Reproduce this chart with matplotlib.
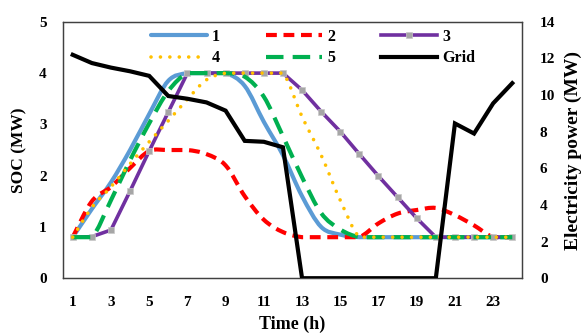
import numpy as np
import matplotlib
matplotlib.use("Agg")
import matplotlib.pyplot as plt
from matplotlib.path import Path
from matplotlib.patches import PathPatch
from matplotlib.lines import Line2D

plt.rcParams["font.family"] = ["Liberation Serif", "DejaVu Serif"]
plt.rcParams["font.weight"] = "bold"

hours = list(range(1, 25))

soc_1 = [0.8, 1.35, 1.87, 2.5, 3.2, 3.85, 4.0, 4.0, 4.0, 3.75, 3.05, 2.4,
         1.6, 1.0, 0.85, 0.8, 0.8, 0.8, 0.8, 0.8, 0.8, 0.8, 0.8, 0.8]
soc_2 = [0.8, 1.5, 1.78, 2.15, 2.48, 2.5, 2.5, 2.42, 2.2, 1.6, 1.14, 0.9,
         0.8, 0.8, 0.8, 0.8, 1.07, 1.26, 1.33, 1.37, 1.23, 1.03, 0.8, 0.8]
soc_3 = [0.8, 0.81, 0.94, 1.7, 2.48, 3.24, 4.0, 4.0, 4.0, 4.0, 4.0, 4.0,
         3.67, 3.25, 2.86, 2.42, 1.99, 1.58, 1.17, 0.8, 0.8, 0.8, 0.8, 0.8]
soc_4 = [0.8, 1.38, 1.78, 2.23, 2.66, 3.07, 3.49, 3.87, 4.0, 4.0, 4.0, 4.0,
         3.15, 2.4, 1.52, 0.8, 0.8, 0.8, 0.8, 0.8, 0.8, 0.8, 0.8, 0.8]
soc_5 = [0.8, 0.8, 1.52, 2.3, 3.02, 3.65, 4.0, 4.0, 4.0, 3.93, 3.54, 2.77,
         1.97, 1.27, 0.95, 0.8, 0.8, 0.8, 0.8, 0.8, 0.8, 0.8, 0.8, 0.8]
grid_power = [12.2, 11.75, 11.5, 11.3, 11.05, 9.95, 9.8, 9.6, 9.15, 7.5, 7.45, 7.15,
              0, 0, 0, 0, 0, 0, 0, 0, 8.45, 7.9, 9.55, 10.65]

series_names = ["1", "2", "3", "4", "5", "Grid"]
x_ticks = list(range(1, 24, 2))
soc_ticks = [0, 1, 2, 3, 4, 5]
power_ticks = [0, 2, 4, 6, 8, 10, 12, 14]


def smooth_path(x, y):
    """Cubic Bezier path through the points (Catmull-Rom style tangents)."""
    p = np.column_stack([x, y]).astype(float)
    n = len(p)
    verts = [p[0]]
    codes = [Path.MOVETO]
    for i in range(n - 1):
        p0 = p[i - 1] if i > 0 else p[i]
        p1 = p[i]
        p2 = p[i + 1]
        p3 = p[i + 2] if i + 2 < n else p[i + 1]
        c1 = p1 + (p2 - p0) / 6.0
        c2 = p2 - (p3 - p1) / 6.0
        # keep flat runs flat (no overshoot below/above a level segment)
        if p1[1] == p2[1]:
            c1[1] = p1[1]
            c2[1] = p2[1]
        verts += [c1, c2, p2]
        codes += [Path.CURVE4] * 3
    return Path(verts, codes)


fig = plt.figure(figsize=(5.85, 3.36), dpi=100)
ax = fig.add_axes([0.108, 0.172, 0.784, 0.763])
ax2 = ax.twinx()

styles = {
    "1": dict(color="#5B9BD5", lw=3.0, ls="-", capstyle="round"),
    "2": dict(color="#FF0000", lw=3.0, ls=(0, (2.6, 1.6)), capstyle="butt"),
    "4": dict(color="#FFC000", lw=2.6, ls=(0, (0.01, 2.6)), capstyle="round"),
    "5": dict(color="#00B050", lw=3.0, ls=(0, (4.2, 2.2)), capstyle="butt"),
}
purple = dict(color="#7030A0", lw=2.6, marker="s", markersize=4.0,
              markerfacecolor="#A6A6A6", markeredgecolor="#C8C8C8",
              markeredgewidth=0.5)


def add_smooth(axis, y, key, z):
    st = styles[key]
    patch = PathPatch(smooth_path(hours, y), facecolor="none", edgecolor=st["color"],
                      lw=st["lw"], linestyle=st["ls"], capstyle=st["capstyle"],
                      joinstyle="round", zorder=z)
    axis.add_patch(patch)


add_smooth(ax, soc_1, "1", 2)
add_smooth(ax, soc_2, "2", 3)
ax.plot(hours, soc_3, zorder=4, **purple)
add_smooth(ax, soc_5, "5", 5)
add_smooth(ax, soc_4, "4", 6)

ax2.plot(hours, grid_power, color="black", lw=3.0, solid_joinstyle="miter", zorder=5)

ax.set_xlim(0.5, 24.5)
ax.set_ylim(0, 5)
ax2.set_ylim(0, 14)
ax.set_xticks(x_ticks)
ax.set_yticks(soc_ticks)
ax2.set_yticks(power_ticks)

for a in (ax, ax2):
    a.tick_params(length=0, labelsize=11)
ax.tick_params(axis="x", pad=13)
ax.tick_params(axis="y", pad=12)
ax2.tick_params(axis="y", pad=13)
for lab in ax.get_xticklabels() + ax.get_yticklabels() + ax2.get_yticklabels():
    lab.set_fontweight("bold")

for a in (ax, ax2):
    for side, sp in a.spines.items():
        sp.set_color("#404040")
        sp.set_linewidth(0.9)

ax.set_ylabel("SOC (MW)", fontsize=12.5, fontweight="bold")
ax.yaxis.set_label_coords(-0.077, 0.5)
ax.set_xlabel("Time (h)", fontsize=13, fontweight="bold")
ax.xaxis.set_label_coords(0.5, -0.145)
ax2.set_ylabel("Electricity power (MW)", fontsize=14, fontweight="bold")
ax2.yaxis.set_label_coords(1.094, 0.5)

h1 = Line2D([], [], color=styles["1"]["color"], lw=3.0, solid_capstyle="round")
h2 = Line2D([], [], color=styles["2"]["color"], lw=3.0, ls=styles["2"]["ls"],
            dash_capstyle="butt")
h3 = Line2D([], [], markevery=[1], **purple)
h4 = Line2D([], [], color=styles["4"]["color"], lw=2.6, ls=styles["4"]["ls"],
            dash_capstyle="round")
h5 = Line2D([], [], color=styles["5"]["color"], lw=3.0, ls=styles["5"]["ls"],
            dash_capstyle="butt")
hg = Line2D([], [], color="black", lw=3.0)

# legend fills column by column, so order entries to read row-wise 1 2 3 / 4 5 Grid
handles = [h1, h4, h2, h5, h3, hg]
labels = [series_names[i] for i in (0, 3, 1, 4, 2, 5)]
leg = ax2.legend(handles, labels, ncol=3, loc="upper center",
                 bbox_to_anchor=(0.545, 1.03), frameon=False,
                 handlelength=3.5, handletextpad=0.3, columnspacing=2.9,
                 labelspacing=0.35, prop={"weight": "bold", "size": 11.5})

fig.savefig("out.png", dpi=100)
